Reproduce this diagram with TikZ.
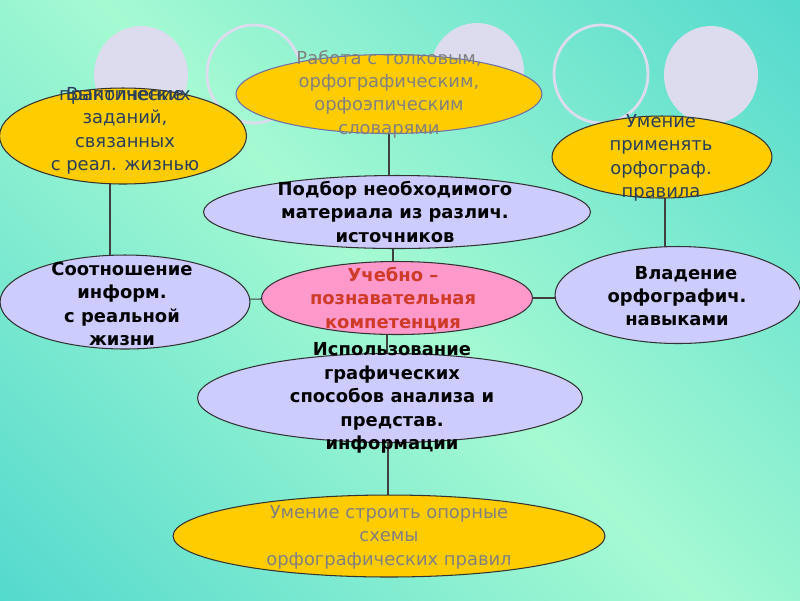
\documentclass[tikz,border=0pt]{standalone}
\usepackage{fontspec}
\setmainfont{DejaVu Sans}
\usetikzlibrary{shapes.geometric, calc}

\definecolor{bgmint}{RGB}{165,250,210}
\definecolor{bgteal}{RGB}{51,204,204}
\definecolor{ringgrey}{RGB}{220,220,238}
\definecolor{ovalyellow}{RGB}{255,204,0}
\definecolor{ovallav}{RGB}{204,204,255}
\definecolor{ovalpink}{RGB}{255,153,204}
\definecolor{greytext}{RGB}{128,128,128}
\definecolor{slatetext}{RGB}{40,62,92}
\definecolor{redtext}{RGB}{208,58,40}
\definecolor{rimblue}{RGB}{110,110,170}

\pgfdeclarehorizontalshading{slidebg}{100bp}{color(0bp)=(bgteal); color(50bp)=(bgmint); color(100bp)=(bgteal)}
\pgfdeclarelayer{backdrop}
\pgfdeclarelayer{wires}
\pgfsetlayers{backdrop,wires,main}

\begin{document}
\begin{tikzpicture}[
    x=0.02cm, y=-0.02cm,
    oval/.style={ellipse, draw=black!80, line width=0.6pt, inner sep=0pt, outer sep=0pt},
    yellowoval/.style={oval, fill=ovalyellow},
    lavoval/.style={oval, fill=ovallav},
    pinkoval/.style={oval, fill=ovalpink},
    txt/.style={align=center, inner sep=0pt, font=\fontsize{10.2}{13.3}\selectfont},
    boldtxt/.style={align=center, inner sep=0pt, font=\fontsize{10.2}{13.3}\selectfont\bfseries},
    wire/.style={draw=black!75, line width=0.6pt},
    ring/.style={draw=ringgrey, line width=1.6pt},
    disc/.style={fill=ringgrey},
]
\useasboundingbox (0,0) rectangle (800,600);

% Slide background and decorative circles
\begin{pgfonlayer}{backdrop}
    \fill[shading=slidebg, shading angle=45] (0,0) rectangle (800,600);
    \fill[disc] (141,75) ellipse [x radius=0.94cm, y radius=0.98cm];
    \draw[ring] (254,74) ellipse [x radius=0.94cm, y radius=0.98cm];
    \fill[disc] (477,72) ellipse [x radius=0.94cm, y radius=0.98cm];
    \draw[ring] (601,74) ellipse [x radius=0.94cm, y radius=0.98cm];
    \fill[disc] (711,75) ellipse [x radius=0.94cm, y radius=0.98cm];
\end{pgfonlayer}

% Ovals
\node[yellowoval, draw=rimblue, minimum width=6.12cm, minimum height=1.58cm] (rabota) at (389,94) {};
\node[yellowoval, minimum width=4.94cm, minimum height=1.92cm] (vypoln) at (123,136) {};
\node[yellowoval, minimum width=4.4cm, minimum height=1.64cm] (umenie) at (662,157) {};
\node[lavoval, minimum width=7.74cm, minimum height=1.46cm] (podbor) at (397,212) {};
\node[pinkoval, minimum width=5.42cm, minimum height=1.46cm] (centre) at (397,298) {};
\node[lavoval, minimum width=5.0cm, minimum height=1.88cm] (sootn) at (125,302) {};
\node[lavoval, minimum width=4.92cm, minimum height=1.94cm] (vladen) at (678,295) {};
\node[lavoval, minimum width=7.7cm, minimum height=1.78cm] (ispolz) at (390,398) {};
\node[yellowoval, minimum width=8.64cm, minimum height=1.64cm] (stroit) at (389,536) {};

% Texts (they run over the ovals)
\node[txt, text=greytext] (rabota-txt) at (389,94) {Работа с толковым,\\орфографическим,\\орфоэпическим\\словарями};
\node[txt, text=slatetext] (vypoln-txt) at (125,131) {\makebox[0pt][c]{Выполнение}\makebox[0pt][c]{практических}\\заданий,\\связанных\\с реал. жизнью};
\node[txt, text=slatetext] (umenie-txt) at (661,158) {Умение\\применять\\орфограф.\\правила};
\node[boldtxt] (podbor-txt) at (395,212) {Подбор необходимого\\материала из различ.\\источников};
\node[boldtxt, text=redtext] (centre-txt) at (393,299) {Учебно --\\познавательная\\компетенция};
\node[boldtxt] (sootn-txt) at (122,304) {Соотношение\\информ.\\с реальной\\жизни};
\node[boldtxt] (vladen-txt) at (677,296) {\hspace*{1em}Владение\\орфографич.\\навыками};
\node[boldtxt] (ispolz-txt) at (392,398) {Использование\\графических\\способов анализа и\\представ.\\информации};
\node[txt, text=greytext] (stroit-txt) at (389,537) {Умение строить опорные\\схемы\\орфографических правил};

% Connections
\begin{pgfonlayer}{wires}
    \draw[wire] (rabota) -- (rabota |- podbor);
    \draw[wire] ($(podbor)+(-4,0)$) -- ($(centre)+(-4,0)$);
    \draw[wire] ($(centre)+(-10,0)$) -- ($(ispolz)+(-3,0)$);
    \draw[wire] ($(ispolz)+(-2,0)$) -- ($(stroit)+(-1,0)$);
    \draw[wire] ($(vypoln)+(-13,0)$) -- ($(sootn)+(-15,0)$);
    \draw[wire] ($(umenie)+(3,0)$) -- ($(vladen)+(-13,0)$);
    \draw[wire] ($(sootn)+(0,-2)$) -- (centre);
    \draw[wire] (centre) -- ($(vladen)+(0,3)$);
\end{pgfonlayer}

\end{tikzpicture}
\end{document}
